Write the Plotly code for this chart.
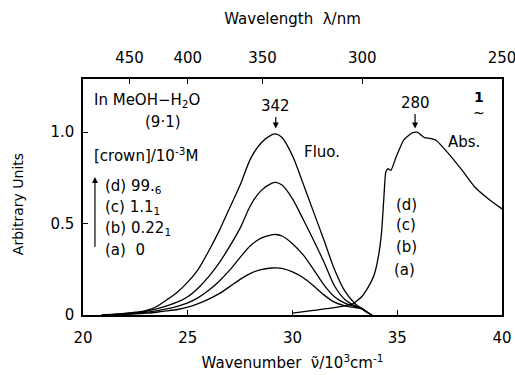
import plotly.graph_objects as go

# ---- data ----
fluo_x = [20.9, 21.5, 22, 22.5, 23, 23.5, 24, 24.5, 25, 25.5, 26, 26.5, 27, 27.5, 28, 28.5, 29, 29.2, 29.5, 30, 30.5, 31, 31.5, 32, 32.5, 33, 33.3, 33.6, 33.8]
fluo_d = [0, 0.004, 0.009, 0.015, 0.024, 0.045, 0.083, 0.125, 0.18, 0.25, 0.35, 0.46, 0.585, 0.71, 0.855, 0.94, 0.985, 0.99, 0.97, 0.87, 0.72, 0.565, 0.41, 0.25, 0.13, 0.06, 0.035, 0.012, 0]
fluo_c = [0, 0.003, 0.007, 0.012, 0.02, 0.033, 0.05, 0.07, 0.10, 0.148, 0.21, 0.285, 0.375, 0.475, 0.60, 0.68, 0.72, 0.725, 0.71, 0.635, 0.525, 0.41, 0.29, 0.16, 0.085, 0.05, 0.038, 0.012, 0]
fluo_b = [0, 0.002, 0.005, 0.009, 0.014, 0.022, 0.033, 0.047, 0.066, 0.095, 0.135, 0.185, 0.245, 0.315, 0.38, 0.42, 0.438, 0.44, 0.432, 0.39, 0.33, 0.25, 0.165, 0.10, 0.065, 0.045, 0.036, 0.012, 0]
fluo_a = [0, 0.001, 0.003, 0.006, 0.01, 0.015, 0.022, 0.03, 0.043, 0.062, 0.087, 0.117, 0.155, 0.195, 0.228, 0.248, 0.257, 0.258, 0.255, 0.236, 0.205, 0.16, 0.11, 0.07, 0.05, 0.04, 0.034, 0.012, 0]

abs_x = [30.0, 31, 32, 32.9, 33.3, 33.6, 33.9, 34.1, 34.25, 34.35, 34.45, 34.55, 34.7, 34.95, 35.3, 35.7, 35.95, 36.3, 36.55, 36.85, 37.5, 38.1, 38.7, 39.4, 40]
abs_y = [0.01, 0.025, 0.04, 0.062, 0.1, 0.15, 0.22, 0.32, 0.45, 0.62, 0.78, 0.80, 0.79, 0.865, 0.955, 0.995, 1.0, 0.97, 0.965, 0.955, 0.875, 0.79, 0.70, 0.63, 0.58]

wavelength_ticks = [450, 400, 350, 300, 250]
wavenumber_ticks = [20, 25, 30, 35, 40]
y_ticks = [0, 0.5, 1.0]
y_ticktext = ["0", "0.5", "1.0"]

FONT = "DejaVu Sans"
line = dict(color="black", width=1.3)

fig = go.Figure()
for ys in [fluo_a, fluo_b, fluo_c, fluo_d]:
    fig.add_trace(go.Scatter(x=fluo_x, y=ys, mode="lines", line=dict(line, shape="spline", smoothing=0.8),
                             showlegend=False, hoverinfo="skip"))
fig.add_trace(go.Scatter(x=abs_x, y=abs_y, mode="lines", line=dict(line, shape="spline", smoothing=0.4),
                         showlegend=False, hoverinfo="skip"))
# invisible trace on top axis
fig.add_trace(go.Scatter(x=[20, 40], y=[0, 0], xaxis="x2", mode="lines", line=dict(width=0),
                         showlegend=False, hoverinfo="skip"))

fig.update_layout(
    width=515, height=375,
    margin=dict(l=83, r=13, t=79, b=60),
    paper_bgcolor="white", plot_bgcolor="white",
    font=dict(family=FONT, size=14, color="black"),
    xaxis=dict(range=[20, 40], tickvals=wavenumber_ticks, ticks="inside", ticklen=5, tickcolor="black",
               showline=True, linecolor="black", linewidth=1.5, mirror=True, showgrid=False, zeroline=False,
               tickfont=dict(size=15), ticklabelstandoff=8, automargin=False,
               title=dict(text="Wavenumber  ν̃/10<sup>3</sup>cm<sup>-1</sup>", font=dict(size=15), standoff=12)),
    xaxis2=dict(range=[19.9999, 40.0001], overlaying="x", side="top", anchor="y",
                tickvals=[round(1e4 / w, 4) for w in wavelength_ticks], ticktext=[str(w) for w in wavelength_ticks],
                ticks="inside", ticklen=5, tickcolor="black", showgrid=False, zeroline=False, tickfont=dict(size=15),
                ticklabelstandoff=12, automargin=False, ticklabeloverflow="allow",
                title=dict(text="Wavelength  λ/nm", font=dict(size=15), standoff=20)),
    yaxis=dict(range=[0, 1.29], tickvals=y_ticks, ticktext=y_ticktext, ticks="inside", ticklen=5, tickcolor="black",
               showline=True, linecolor="black", linewidth=1.5, mirror=True, showgrid=False, zeroline=False,
               tickfont=dict(size=15), ticklabelstandoff=4, automargin=False),
)

# y-axis title placed as a rotated text
fig.add_annotation(xref="paper", yref="paper", x=-0.155, y=0.47, text="Arbitrary Units", textangle=-90,
                   showarrow=False, xanchor="center", yanchor="middle", font=dict(family=FONT, size=14, color="black"))

def txt(x, y, s, anchor="left", size=15):
    fig.add_annotation(x=x, y=y, text=s, showarrow=False, xanchor=anchor, yanchor="middle",
                       font=dict(family=FONT, size=size, color="black"))

txt(20.43, 1.175, "In MeOH−H<sub>2</sub>O")
txt(23.81, 1.055, "(9·1)", anchor="center")
txt(20.43, 0.874, "[crown]/10<sup>-3</sup>M")
txt(20.95, 0.705, "(d) 99.<sub>6</sub>")
txt(20.95, 0.59, "(c) 1.1<sub>1</sub>")
txt(20.95, 0.475, "(b) 0.22<sub>1</sub>")
txt(20.95, 0.355, "(a)  0")
txt(31.43, 0.89, "Fluo.", anchor="center")
txt(38.19, 0.945, "Abs.", anchor="center")
txt(35.43, 0.60, "(d)", anchor="center")
txt(35.43, 0.49, "(c)", anchor="center")
txt(35.43, 0.37, "(b)", anchor="center")
txt(35.35, 0.246, "(a)", anchor="center")
txt(38.9, 1.19, "<b>1</b>", anchor="center", size=14)
txt(38.9, 1.105, "~", anchor="center", size=14)

# peak arrows
fig.add_annotation(x=29.2, y=1.02, text="342", showarrow=True, arrowhead=2, arrowsize=1, arrowwidth=1.2,
                   arrowcolor="black", ax=0, ay=-22, font=dict(family=FONT, size=15))
fig.add_annotation(x=35.85, y=1.02, text="280", showarrow=True, arrowhead=2, arrowsize=1, arrowwidth=1.2,
                   arrowcolor="black", ax=0, ay=-25, font=dict(family=FONT, size=15))
# vertical arrow for concentration
fig.add_annotation(x=20.57, y=0.755, ax=20.57, ay=0.365, axref="x", ayref="y", text="", showarrow=True,
                   arrowhead=2, arrowsize=1, arrowwidth=1.2, arrowcolor="black")

fig.write_html("out.html")
